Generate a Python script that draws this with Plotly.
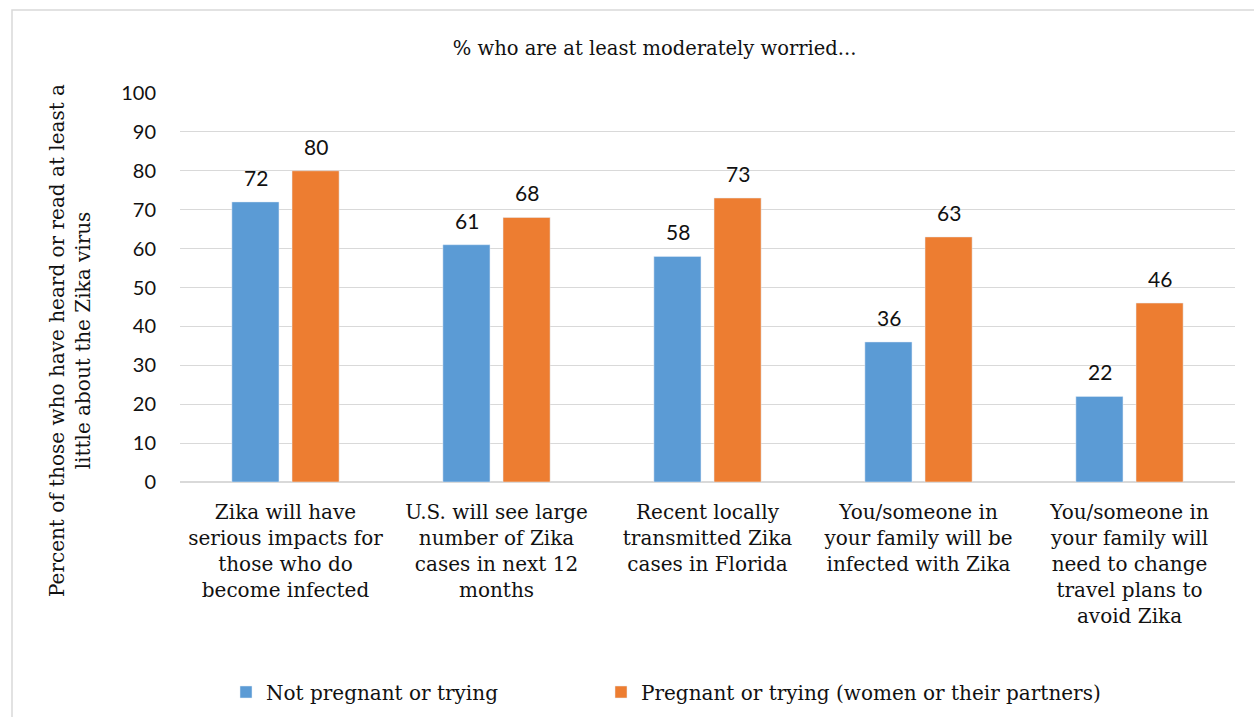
import plotly.graph_objects as go

categories = [
    "Zika will have<br>serious impacts for<br>those who do<br>become infected",
    "U.S. will see large<br>number of Zika<br>cases in next 12<br>months",
    "Recent locally<br>transmitted Zika<br>cases in Florida",
    "You/someone in<br>your family will be<br>infected with Zika",
    "You/someone in<br>your family will<br>need to change<br>travel plans to<br>avoid Zika",
]
not_pregnant = [72, 61, 58, 36, 22]
pregnant = [80, 68, 73, 63, 46]
series_names = ["Not pregnant or trying", "Pregnant or trying (women or their partners)"]
y_ticks = [0, 10, 20, 30, 40, 50, 60, 70, 80, 90, 100]

serif = "DejaVu Serif"
sans = "Lato"
colors = ["#5B9BD5", "#ED7D31"]

fig = go.Figure()
fig.add_trace(go.Bar(
    x=categories, y=not_pregnant, name=series_names[0],
    marker_color=colors[0], legend="legend",
))
fig.add_trace(go.Bar(
    x=categories, y=pregnant, name=series_names[1],
    marker_color=colors[1], legend="legend2",
))

# data labels above each bar
for vals, shift in ((not_pregnant, -30), (pregnant, 30)):
    for c, v in zip(categories, vals):
        fig.add_annotation(x=c, y=v, xref="x", yref="y", text=str(v), showarrow=False,
                           xshift=shift, yshift=10, yanchor="bottom",
                           font=dict(family=sans, size=21, color="#111"))

legend_y = 1 - 692 / 717

fig.update_layout(
    width=1254, height=717,
    margin=dict(l=180, r=19, t=93, b=235),
    paper_bgcolor="white", plot_bgcolor="white",
    barmode="group", bargap=0.43, bargroupgap=0.217,
    title=dict(text="% who are at least moderately worried...", x=0.522, xanchor="center",
               y=1 - 48/717, yanchor="middle",
               font=dict(family=serif, size=19.5, color="#111")),
    xaxis=dict(tickfont=dict(family=serif, size=20, color="#111"), showline=True,
               linecolor="#d9d9d9", linewidth=1, ticks="", ticklabelstandoff=12,
               automargin=False),
    yaxis=dict(range=[0, 100], tickvals=y_ticks, showgrid=True, gridcolor="#d9d9d9",
               gridwidth=1, zeroline=True, zerolinecolor="#d9d9d9",
               tickfont=dict(family=sans, size=20, color="#111"), ticklabelstandoff=23,
               automargin=False),
    legend=dict(orientation="h", x=(226 - 180) / 1055, y=legend_y, yref="container",
                xanchor="left", yanchor="middle", itemwidth=30,
                font=dict(family=serif, size=20, color="#111")),
    legend2=dict(orientation="h", x=(601 - 180) / 1055, y=legend_y, yref="container",
                 xanchor="left", yanchor="middle", itemwidth=30,
                 font=dict(family=serif, size=20, color="#111")),
    showlegend=True,
)

fig.add_annotation(
    text="Percent of those who have heard or read at least a<br>little about the Zika virus",
    xref="paper", yref="paper", x=(70 - 180) / 1055, y=(482 - 341) / 389,
    textangle=-90, showarrow=False, xanchor="center", yanchor="middle",
    font=dict(family=serif, size=20, color="#111"),
)

fig.add_shape(type="rect", xref="paper", yref="paper",
              x0=(12 - 180) / 1055, x1=(1262 - 180) / 1055,
              y0=(482 - 725) / 389, y1=(482 - 10) / 389,
              line=dict(color="#d9d9d9", width=1.5), fillcolor="rgba(0,0,0,0)", layer="below")

fig.write_html("out.html")
